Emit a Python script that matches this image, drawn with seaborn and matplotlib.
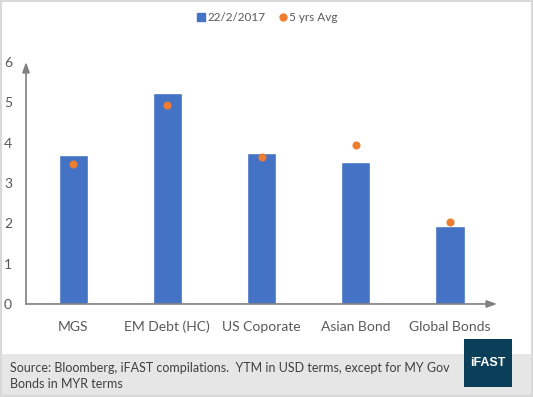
import matplotlib
matplotlib.use("Agg")
import matplotlib.pyplot as plt
from matplotlib.lines import Line2D
from matplotlib.patches import Rectangle
import seaborn as sns
import pandas as pd

categories = ["MGS", "EM Debt (HC)", "US Coporate", "Asian Bond", "Global Bonds"]
ytm_current = [3.70, 5.24, 3.75, 3.52, 1.94]
ytm_5yr_avg = [3.48, 4.93, 3.64, 3.93, 2.03]
series_names = ["22/2/2017", "5 yrs Avg"]
y_ticks = [0, 1, 2, 3, 4, 5, 6]
source_note = "Source: Bloomberg, iFAST compilations.  YTM in USD terms, except for MY Gov\nBonds in MYR terms"

BAR_COLOR = "#4472C4"
DOT_COLOR = "#ED7D31"
AXIS_GREY = "#808080"
TEXT_GREY = "#595959"

df = pd.DataFrame({"category": categories, "current": ytm_current, "avg": ytm_5yr_avg})

sns.set_theme(style="white")
plt.rcParams["font.family"] = ["Lato", "DejaVu Sans"]

fig = plt.figure(figsize=(5.33, 3.97), dpi=100)
ax = fig.add_axes([0.0488, 0.2343, 0.8837, 0.6095])

sns.barplot(data=df, x="category", y="current", color=BAR_COLOR, width=0.31,
            saturation=1, ax=ax)
sns.stripplot(data=df, x="category", y="avg", color=DOT_COLOR, jitter=False,
              size=5.8, linewidth=0, ax=ax)

ax.set_xlim(-0.5, 4.5)
ax.set_ylim(0, 6)
ax.set_yticks(y_ticks)
ax.set_xlabel("")
ax.set_ylabel("")
for s in ax.spines.values():
    s.set_visible(False)
ax.tick_params(axis="both", length=0, labelcolor=TEXT_GREY, labelsize=10)
ax.tick_params(axis="y", pad=10)
ax.tick_params(axis="x", pad=12)

# axis arrows
arrow = dict(arrowstyle="-|>,head_length=0.5,head_width=0.18", color=AXIS_GREY, lw=1.2,
             shrinkA=0, shrinkB=0)
ax.annotate("", xy=(0, 1.0), xytext=(0, 0), xycoords="axes fraction", arrowprops=arrow,
            annotation_clip=False)
ax.annotate("", xy=(1.0, 0), xytext=(0, 0), xycoords="axes fraction", arrowprops=arrow,
            annotation_clip=False)

handles = [
    Line2D([], [], marker="s", linestyle="none", color=BAR_COLOR, markersize=6),
    Line2D([], [], marker="o", linestyle="none", color=DOT_COLOR, markersize=5),
]
fig.legend(handles, series_names, loc="center", bbox_to_anchor=(0.5, 0.955), ncol=2,
           frameon=False, fontsize=8.5, handletextpad=0.0, columnspacing=1.0,
           handlelength=1.0, labelcolor=TEXT_GREY)

# footer band, logo box and outer border
fig.patches.append(Rectangle((0, 0), 1, 43 / 397, transform=fig.transFigure,
                             facecolor="#E7E6E6", edgecolor="none", zorder=0))
fig.patches.append(Rectangle((464 / 533, 10 / 397), 48 / 533, 48 / 397,
                             transform=fig.transFigure, facecolor="#0B3E58",
                             edgecolor="none", zorder=2))
fig.text(488 / 533, 34 / 397, "iFAST", color="white", fontsize=9, fontweight="bold",
         ha="center", va="center", zorder=3, family=["Liberation Sans", "DejaVu Sans"])
fig.patches.append(Rectangle((0.001, 0.002), 0.997, 0.996, transform=fig.transFigure,
                             facecolor="none", edgecolor="#D9D9D9", lw=1.5, zorder=4))
fig.text(10 / 533, 21 / 397, source_note, fontsize=9, color="#404040",
         ha="left", va="center", linespacing=1.35)

fig.savefig("out.png", dpi=100)
